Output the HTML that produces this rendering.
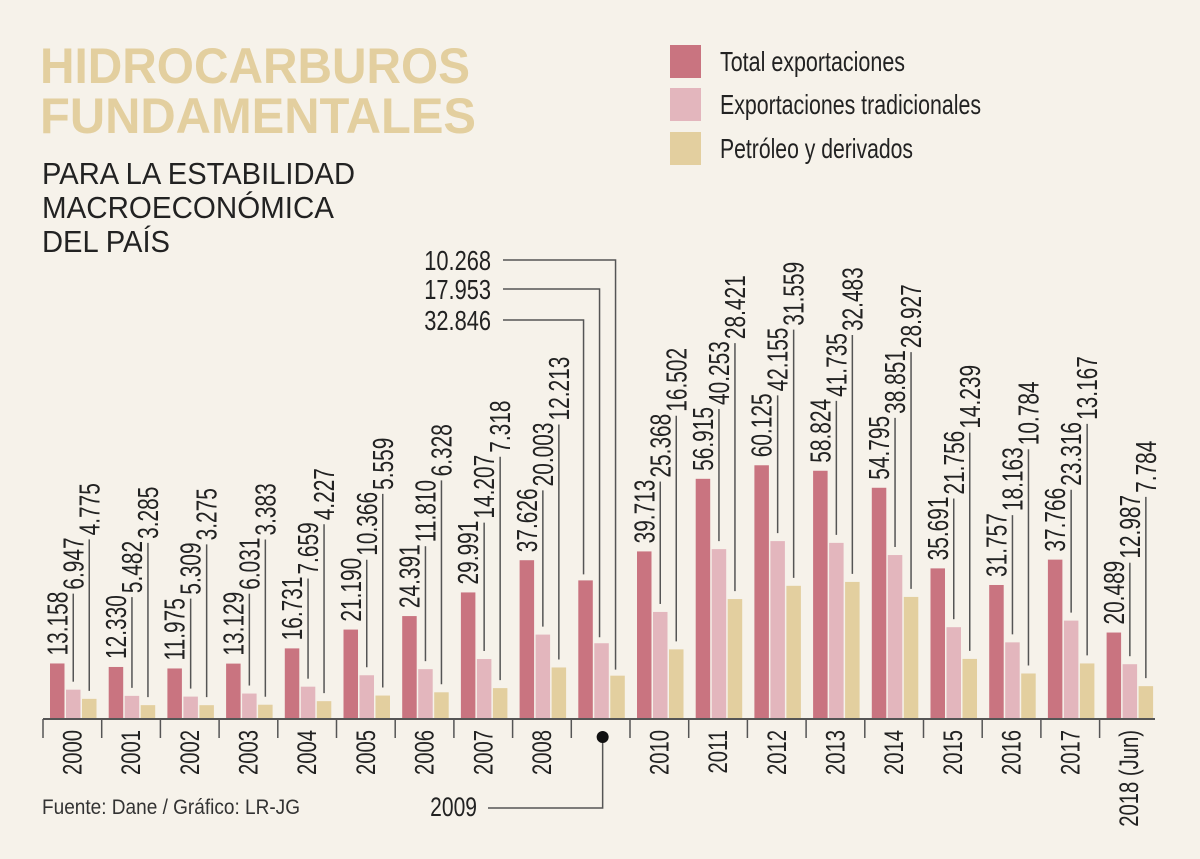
<!DOCTYPE html>
<html><head><meta charset="utf-8"><style>
body{margin:0;background:#f6f2ea;}
svg{display:block;font-family:"Liberation Sans",sans-serif;}
</style></head><body>
<svg id="chart" width="1200" height="859" viewBox="0 0 1200 859">
<rect width="1200" height="859" fill="#f6f2ea"/>
<text x="40" y="83" font-size="50" font-weight="bold" fill="#e3cf9f" textLength="430" lengthAdjust="spacingAndGlyphs">HIDROCARBUROS</text>
<text x="40" y="133" font-size="50" font-weight="bold" fill="#e3cf9f" textLength="436" lengthAdjust="spacingAndGlyphs">FUNDAMENTALES</text>
<text x="42" y="184" font-size="31" fill="#222" textLength="313" lengthAdjust="spacingAndGlyphs">PARA LA ESTABILIDAD</text>
<text x="42" y="218" font-size="31" fill="#222" textLength="292" lengthAdjust="spacingAndGlyphs">MACROECONÓMICA</text>
<text x="42" y="252" font-size="31" fill="#222" textLength="128" lengthAdjust="spacingAndGlyphs">DEL PAÍS</text>
<g>
<rect x="670" y="45" width="31" height="33" fill="#c97480"/>
<text x="720" y="71" font-size="28" fill="#222" textLength="185" lengthAdjust="spacingAndGlyphs">Total exportaciones</text>
<rect x="670" y="88" width="31" height="33" fill="#e3b6bd"/>
<text x="720" y="114" font-size="28" fill="#222" textLength="261" lengthAdjust="spacingAndGlyphs">Exportaciones tradicionales</text>
<rect x="670" y="132" width="31" height="33" fill="#e3cf9f"/>
<text x="720" y="158" font-size="28" fill="#222" textLength="193" lengthAdjust="spacingAndGlyphs">Petróleo y derivados</text>
</g>
<text x="42" y="814" font-size="21" fill="#333" textLength="258" lengthAdjust="spacingAndGlyphs">Fuente: Dane / Gráfico: LR-JG</text>
<g id="plot"></g>
</svg>
<script>
const years = ["2000","2001","2002","2003","2004","2005","2006","2007","2008","2009","2010","2011","2012","2013","2014","2015","2016","2017","2018 (Jun)"];
const totalValues = [13158,12330,11975,13129,16731,21190,24391,29991,37626,32846,39713,56915,60125,58824,54795,35691,31757,37766,20489];
const tradValues = [6947,5482,5309,6031,7659,10366,11810,14207,20003,17953,25368,40253,42155,41735,38851,21756,18163,23316,12987];
const petroValues = [4775,3285,3275,3383,4227,5559,6328,7318,12213,10268,16502,28421,31559,32483,28927,14239,10784,13167,7784];
const series = [totalValues, tradValues, petroValues];
const colors = ["#c97480","#e3b6bd","#e3cf9f"];
const sNames = ["total","tradicionales","petroleo"];
const NS = "http://www.w3.org/2000/svg";
const g = document.getElementById("plot");
const base = 719, k = 0.00422, x0 = 43, step = 58.7, barW = 14.5;
const yS = v => base - v * k;
const xB = (i, s) => x0 + 7 + i * step + s * 16;
function mk(t, a){const e=document.createElementNS(NS,t);for(const n in a)e.setAttribute(n,a[n]);g.appendChild(e);return e;}
const fmt = v => { const s = String(v); return s.length > 3 ? s.slice(0,-3)+"."+s.slice(-3) : s; };
const lblFont = 29, sx = 0.72;
const textLen = s => { let w = 0; for (const c of s) w += (c === "." ? 0.278 : 0.556); return w * lblFont * sx; };
years.forEach((yr, i) => {
  let prevTop = null;
  series.forEach((arr, s) => {
    const v = arr[i];
    const r = mk("rect", {x: xB(i,s), y: yS(v), width: barW, height: v*k, fill: colors[s]});
    
    
    const cx = xB(i,s) + barW/2;
    const txt = fmt(v);
    const len = textLen(txt);
    if (yr === "2009") {
      const ly = [320, 289, 260][s];
      const lx = cx - 2;
      const p = mk("polyline", {points: `503,${ly} ${lx},${ly} ${lx},${yS(v)-6}`, fill: "none", stroke: "#555", "stroke-width": 1.5});
      
      
      const t = mk("text", {x: 0, y: 0, "font-size": 28, "text-anchor": "end", fill: "#222", transform: `translate(491 ${ly+10}) scale(0.78 1)`});
      t.textContent = txt;
      
      
      return;
    }
    let bottom;
    if (s === 0) bottom = yS(v) - 8;
    else {
      bottom = prevTop - 2;
      const ln = mk("line", {x1: cx, x2: cx, y1: bottom + 4, y2: yS(v) - 8, stroke: "#555", "stroke-width": 1.5});
      
      
    }
    const bx = cx + 10;
    const t = mk("text", {x: 0, y: 0, "font-size": lblFont, fill: "#222", transform: `translate(${bx} ${bottom}) rotate(-90) scale(${sx} 1)`});
    t.textContent = txt;
    
    
    prevTop = bottom - len;
  });
  const gx = x0 + i * step;
  const tk = mk("line", {x1: gx, x2: gx, y1: base, y2: 738, stroke: "#555", "stroke-width": 1.5});
  
  
  if (yr !== "2009") {
    const lx = gx + step/2 + 9;
    const yl = mk("text", {x: 0, y: 0, "font-size": 27, fill: "#222", "text-anchor": "end", transform: `translate(${lx} 730) rotate(-90) scale(0.75 1)`});
    yl.textContent = yr;
    
    
  }
});
const ax = mk("line", {x1: x0, x2: 1155, y1: base, y2: base, stroke: "#555", "stroke-width": 2});


const dx = x0 + 9*step + step/2 + 2;
const dl = mk("polyline", {points: `${dx},737 ${dx},808 488,808`, fill: "none", stroke: "#555", "stroke-width": 1.5});


const dot = mk("circle", {cx: dx, cy: 737, r: 6, fill: "#111"});


const y9 = mk("text", {x: 0, y: 0, "font-size": 27, "text-anchor": "end", fill: "#222", transform: "translate(477 816) scale(0.78 1)"});
y9.textContent = "2009";


</script>
</body></html>
